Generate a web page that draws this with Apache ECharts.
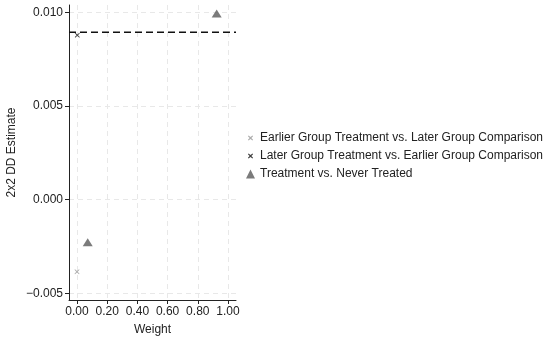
<!DOCTYPE html>
<html><head><meta charset="utf-8">
<script src="https://cdn.jsdelivr.net/npm/echarts@6/dist/echarts.min.js"></script>
<style>html,body{margin:0;padding:0;background:#fff}#c{width:550px;height:341px}</style>
</head><body><div id="c"></div>
<script>
const seriesNames = ["Earlier Group Treatment vs. Later Group Comparison","Later Group Treatment vs. Earlier Group Comparison","Treatment vs. Never Treated"];
const earlierVsLater = [[0.0, -0.00385]];
const laterVsEarlier = [[0.002, 0.00879]];
const treatVsNever = [[0.071, -0.00227],[0.925, 0.00995]];
const overallEstimate = 0.00894;
const xTicks = [0, 0.2, 0.4, 0.6, 0.8, 1.0];
const yTicks = [-0.005, 0, 0.005, 0.010];
const xMin = -0.053, xMax = 1.053, yMin = -0.00536, yMax = 0.0104;

const X = 'path://M1,0L5,3.6L9,0L10,1.2L6.4,5L10,8.8L9,10L5,6.4L1,10L0,8.8L3.6,5L0,1.2Z';
// legend icon: same X with invisible corner points so that it draws smaller in the box
const XL = 'path://M0,0L0.01,0L0,0.01ZM14,14L13.99,14L14,13.99ZM4,3L7,5.6L10,3L11,4.2L8.4,7L11,9.8L10,11L7,8.4L4,11L3,9.8L5.6,7L3,4.2Z';
const font = 'Liberation Sans, Arial, sans-serif';
const chart = echarts.init(document.getElementById('c'));
chart.setOption({
  animation:false,
  grid:{left:69,right:314,top:5,bottom:39,containLabel:false},
  xAxis:{type:'value',min:xMin,max:xMax,name:'Weight',nameLocation:'middle',nameGap:24,
    nameTextStyle:{color:'#222',fontSize:12,fontFamily:font},
    axisLine:{show:true,onZero:false,lineStyle:{color:'#222',width:1}},
    axisTick:{show:true,length:4,customValues:xTicks,lineStyle:{color:'#222'}},
    axisLabel:{customValues:xTicks,color:'#222',fontSize:12,fontFamily:font,margin:6,formatter:v=>v.toFixed(2)},
    splitLine:{show:true,lineStyle:{color:'#e8e8e8',type:[5,4]}}},
  yAxis:{type:'value',min:yMin,max:yMax,name:'2x2 DD Estimate',nameLocation:'middle',nameGap:51,
    nameTextStyle:{color:'#222',fontSize:12,fontFamily:font},
    axisLine:{show:true,onZero:false,lineStyle:{color:'#222',width:1}},
    axisTick:{show:true,length:4,customValues:yTicks,lineStyle:{color:'#222'}},
    axisLabel:{customValues:yTicks,color:'#222',fontSize:12,fontFamily:font,margin:6,formatter:v=>(v<0?'\u2212':'')+Math.abs(v).toFixed(3)},
    splitLine:{show:true,lineStyle:{color:'#e8e8e8',type:[5,4]}}},
  legend:{orient:'vertical',left:241,top:127,itemGap:6,itemWidth:9,itemHeight:9,
    textStyle:{color:'#222',fontSize:12,fontFamily:font},
    data:[{name:seriesNames[0],icon:XL,itemStyle:{color:'#999'}},{name:seriesNames[1],icon:XL,itemStyle:{color:'#111'}},{name:seriesNames[2],icon:'triangle',itemStyle:{color:'#5a5a5a'}}]},
  series:[
    {name:seriesNames[0],type:'scatter',data:earlierVsLater,symbol:X,symbolSize:5,itemStyle:{color:'#999'},z:3},
    {name:seriesNames[1],type:'scatter',data:laterVsEarlier,symbol:X,symbolSize:5,itemStyle:{color:'#111'},z:3},
    {name:seriesNames[2],type:'scatter',data:treatVsNever,symbol:'triangle',symbolSize:[10,8],itemStyle:{color:'#5a5a5a'},z:3},
    {name:'overall',type:'line',data:[[xMin,overallEstimate],[xMax,overallEstimate]],symbol:'none',silent:true,
      lineStyle:{color:'#111',type:[7,4],width:1.5},z:2}
  ]
});
</script></body></html>
